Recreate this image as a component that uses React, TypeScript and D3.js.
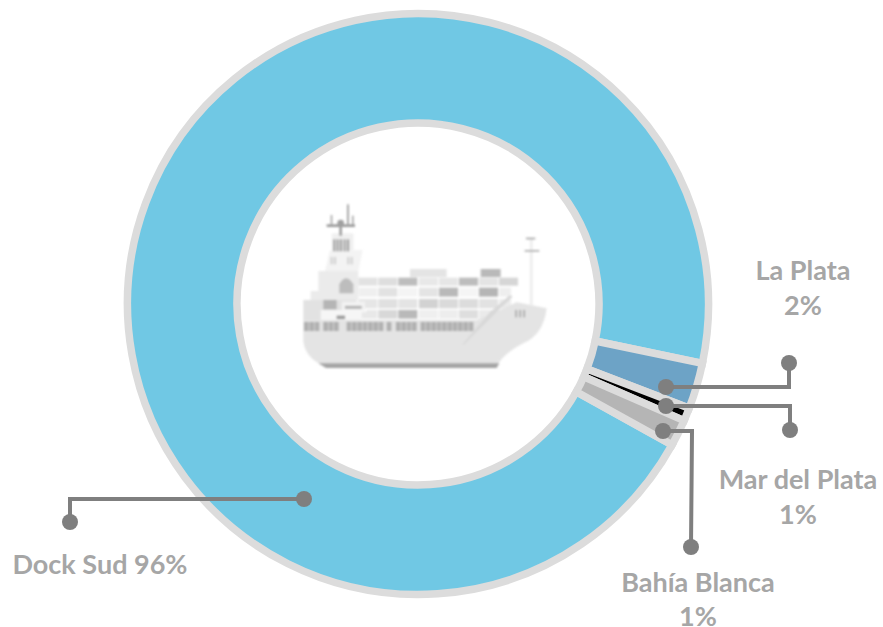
import React from "react";
import * as d3 from "d3";

const ports = ["La Plata", "Mar del Plata", "Bahía Blanca", "Dock Sud"];
const shares = [2.56, 0.74, 1.48, 95.22];
const sliceColors = ["#6da3c6", "#000000", "#b5b5b5", "#70c8e4"];
const startDeg = 101.8;

const labelColor = "#a6a6a6";
const leaderColor = "#7f7f7f";

// leader routes: [from, elbow, to]
const leaders = [
  [[666, 387], [789, 387], [789, 363]],
  [[666, 406], [790, 406], [790, 430]],
  [[663, 431], [692, 431], [691, 547]],
  [[304, 499], [70, 499], [70, 522]],
];
const labels = [
  { lines: ["La Plata", "2%"], x: 803, ys: [280, 315] },
  { lines: ["Mar del Plata", "1%"], x: 798, ys: [489, 524] },
  { lines: ["Bahía Blanca", "1%"], x: 698, ys: [592, 626] },
  { lines: ["Dock Sud 96%"], x: 100, ys: [574] },
];

// ship drawn in a local coordinate system
const containerRows = [
  { y: 248, h: 24, fills: ["#e2e2e2", "#dedede", "#bdbdbd", "#e8e8e8", "#e6e6e6", "#bdbdbd", "#e4e4e4", "#d6d6d6"] },
  { y: 278, h: 27, fills: ["#efefef", "#e2e2e2", "#f4f4f4", "#e4e4e4", "#b9b9b9", "#f5f5f5", "#b5b5b5", "#eeeeee"] },
  { y: 312, h: 28, fills: ["#e6e6e6", "#e0e0e0", "#e4e4e4", "#d2d2d2", "#dadada", "#dcdcdc", "#e2e2e2", "#ececec"] },
  { y: 345, h: 26, fills: ["#e8e8e8", "#d8d8d8", "#b9b9b9", "#efefef", "#ededed", "#dedede", "#eaeaea", "#f0f0f0"] },
];
const colX = [205, 265, 325, 387, 447, 507, 567, 627];
const windowX = [42, 58, 74, 100, 116, 132, 170, 186, 202, 218, 234, 250, 266, 290, 318, 334, 350, 366, 392, 408, 424, 440, 456, 472, 488, 504, 520, 536];

function Ship() {
  return (
    <g transform="translate(290,195) scale(0.3333)" style={{ filter: "blur(2.4px)" }}>
      <path d="M360,222H470V246H360Z" fill="#e4e4e4" />
      <path d="M572,222H632V246H572Z" fill="#b9b9b9" />
      <path d="M120,165 H218 L205,228 H105 Z" fill="#f3f3f3" />
      <path d="M125,115 H190 V165 H125 Z" fill="#f0f0f0" />
      {[130, 140, 150, 161, 171].map((x) => <rect key={x} x={x} y={133} width={6} height={36} fill="#9c9c9c" />)}
      <rect x={110} y={88} width={85} height={8} fill="#9a9a9a" />
      <rect x={171} y={28} width={6} height={64} fill="#a8a8a8" />
      <rect x={122} y={60} width={5} height={30} fill="#a8a8a8" />
      <rect x={186} y={62} width={5} height={28} fill="#a8a8a8" />
      <circle cx={152} cy={84} r={10} fill="#a0a0a0" />
      <rect x={148} y={90} width={8} height={32} fill="#a0a0a0" />
      <rect x={122} y={186} width={6} height={22} fill="#d0d0d0" />
      <rect x={132} y={186} width={6} height={22} fill="#d0d0d0" />
      <rect x={172} y={186} width={6} height={22} fill="#d0d0d0" />
      <rect x={182} y={186} width={6} height={22} fill="#d0d0d0" />
      <path d="M85,228 H205 V315 H62 V288 H85 Z" fill="#ebebeb" />
      <path d="M148,295 V268 Q168,232 190,268 V295 Z" fill="#bdbdbd" />
      <path d="M40,315 H200 V375 H40 Z" fill="#e2e2e2" />
      <rect x={100} y={315} width={40} height={28} fill="#b5b5b5" />
      {containerRows.map((r) =>
        r.fills.map((f, i) => (
          <rect key={r.y + "-" + i} x={colX[i]} y={r.y} width={i === 7 && r.y > 270 ? 36 : 57} height={r.h} fill={f} />
        ))
      )}
      <path d="M92,345 H230 V352 H215 V376 H92 Z" fill="#f6f6f6" />
      <path d="M155,320 H225 V345 H155 Z" fill="#f2f2f2" />
      <rect x={165} y={333} width={50} height={8} fill="#b0b0b0" />
      <rect x={140} y={362} width={25} height={10} fill="#9a9a9a" />
      <path d="M40,375 H560 L680,322 L770,340 Q760,420 700,445 Q650,470 625,505 H85 Q45,480 40,440 Z" fill="#e4e4e4" />
      <path d="M600,352 L660,300 L668,305 L610,360 L520,450 L518,448 Z" fill="#d8d8d8" />
      <rect x={720} y={130} width={8} height={200} fill="#ededed" />
      <rect x={708} y={128} width={28} height={5} fill="#a8a8a8" />
      <rect x={704} y={165} width={44} height={5} fill="#b0b0b0" />
      {[676, 688, 700].map((x) => <rect key={x} x={x} y={345} width={5} height={22} fill="#a8a8a8" />)}
      {windowX.map((x) => <rect key={x} x={x} y={381} width={14} height={27} fill="#b0b0b0" />)}
      <path d="M85,505 H628 L620,519 H108 Z" fill="#a4a4a4" />
    </g>
  );
}

export default function App() {
  const cx = 418, cy = 304;
  const pie = d3
    .pie<number>()
    .sort(null)
    .startAngle((startDeg * Math.PI) / 180)
    .endAngle((startDeg * Math.PI) / 180 + 2 * Math.PI);
  const arc = d3.arc<d3.PieArcDatum<number>>().innerRadius(181).outerRadius(290.5);
  const arcs = pie(shares);
  const line = d3.line();
  return (
    <svg width={883} height={627} style={{ position: "absolute", left: 0, top: 0, background: "#fff" }}>
      <g transform={`translate(${cx},${cy})`}>
        {[3, 0, 1, 2].map((i) => (
          <path
            key={ports[i]}
            d={arc(arcs[i]) as string}
            fill={sliceColors[i]}
            stroke="#dcdcdc"
            strokeWidth={7.5}
            strokeLinejoin="miter"
          />
        ))}
      </g>
      <Ship />
      {leaders.map((pts, i) => (
        <g key={i}>
          <path d={line(pts as [number, number][]) as string} fill="none" stroke={leaderColor} strokeWidth={4} />
          <circle cx={pts[0][0]} cy={pts[0][1]} r={8} fill={leaderColor} />
          <circle cx={pts[2][0]} cy={pts[2][1]} r={8} fill={leaderColor} />
        </g>
      ))}
      {labels.map((l) =>
        l.lines.map((t, j) => (
          <text
            key={t + j}
            x={l.x}
            y={l.ys[j]}
            textAnchor="middle"
            fontFamily="Lato, 'Open Sans', sans-serif"
            fontWeight={700}
            fontSize={27}
            fill={labelColor}
          >
            {t}
          </text>
        ))
      )}
    </svg>
  );
}
